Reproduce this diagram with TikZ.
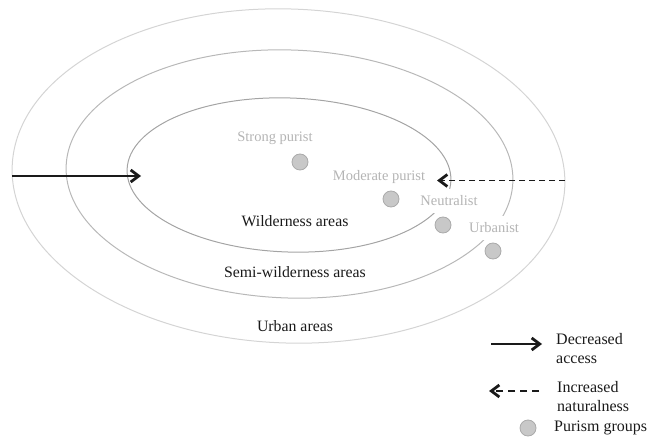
\documentclass[tikz,border=0pt]{standalone}
\usepackage{fontspec}
\setmainfont{Liberation Serif}
\usetikzlibrary{arrows.meta}
\definecolor{ringA}{HTML}{D4D4D4}
\definecolor{ringB}{HTML}{B8B8B8}
\definecolor{ringC}{HTML}{A4A4A4}
\definecolor{grouptxt}{HTML}{B4B4B4}
\definecolor{dotfill}{HTML}{C8C8C8}
\definecolor{dotline}{HTML}{AAAAAA}
\definecolor{ink}{HTML}{1A1A1A}
\tikzset{
  ring/.style={line width=1pt},
  zone/.style={font=\fontsize{15.8}{18}\selectfont, text=ink, inner sep=0pt},
  grouplbl/.style={font=\fontsize{14.5}{17}\selectfont, text=grouptxt, inner sep=0pt},
  coverlbl/.style={grouplbl, fill=white, inner xsep=2pt, inner ysep=7pt},
  groupdot/.style={circle, fill=dotfill, draw=dotline, line width=0.8pt, minimum size=16pt, inner sep=0pt},
  legtxt/.style={font=\fontsize{16}{19}\selectfont, text=ink, align=left, anchor=west, inner sep=0pt},
  headtip/.style={-{Straight Barb[length=8pt,width=12pt,line width=2.8pt]}},
  access/.style={headtip, draw=ink, line width=1.4pt},
  natural/.style={headtip, draw=ink, line width=1.7pt, dash pattern=on 6pt off 4pt},
}
\begin{document}
\begin{tikzpicture}[x=1pt,y=-1pt]
\useasboundingbox (0,0) rectangle (647,446);
% rings
\draw[ring, draw=ringA] (288.5,176) ellipse [x radius=276.5, y radius=167, rotate=-2];
\draw[ring, draw=ringB] (289.5,174) ellipse [x radius=223.5, y radius=124, rotate=-2];
\draw[ring, draw=ringC] (289,175) ellipse [x radius=162, y radius=77, rotate=-2];
% zone labels
\node[zone] (wild) at (295,221) {Wilderness areas};
\node[zone] (semi) at (295,272) {Semi-wilderness areas};
\node[zone] (urban) at (295,326) {Urban areas};
% group labels
\node[grouplbl] (lstrong) at (275,138) {Strong purist};
\node[grouplbl] (lmod) at (379,177) {Moderate purist};
\node[coverlbl] (lneut) at (449,201) {Neutralist};
\node[coverlbl] (lurb) at (494,228) {Urbanist};
% group dots
\node[groupdot] (dstrong) at (300,162) {};
\node[groupdot] (dmod) at (391,199) {};
\node[groupdot] (dneut) at (443,225) {};
\node[groupdot] (durb) at (493,251) {};
% main arrows
\coordinate (accS) at (12,176);
\coordinate (accE) at (141,176);
\draw[access] (accS) -- (accE);
\coordinate (natS) at (565,180.5);
\coordinate (natE) at (437,180.5);
\draw[natural] (natS) -- (natE);
% legend
\coordinate (lgA1) at (491,344);
\coordinate (lgA2) at (542,344);
\draw[access] (lgA1) -- (lgA2);
\node[legtxt] (tacc) at (556,349) {Decreased\\access};
\coordinate (lgN1) at (539,391);
\coordinate (lgN2) at (489,391);
\draw[natural, dash pattern=on 7pt off 5pt] (lgN1) -- (lgN2);
\node[legtxt] (tnat) at (557,397) {Increased\\naturalness};
\node[groupdot] (dleg) at (528,428) {};
\node[legtxt] (tgrp) at (554,428) {Purism groups};
\end{tikzpicture}
\end{document}
